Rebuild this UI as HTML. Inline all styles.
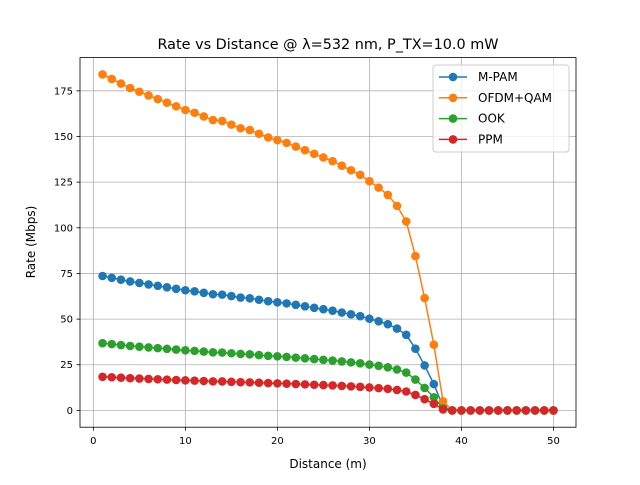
<!DOCTYPE html>
<html><head><meta charset="utf-8"><style>
body{margin:0;background:#fff}
svg{font-family:"DejaVu Sans","Liberation Sans",sans-serif}
</style></head><body>
<svg id="chart" width="640" height="480" xmlns="http://www.w3.org/2000/svg">
<rect width="640" height="480" fill="#fff"/>
<text x="328" y="49" font-size="14.4" text-anchor="middle">Rate vs Distance @ λ=532 nm, P_TX=10.0 mW</text>
<g id="grid"></g><g id="series"></g>
<rect x="80" y="57.6" width="496" height="369.6" fill="none" stroke="#000" stroke-width="0.8"/>
<g id="axes"></g>
<text x="328" y="468" font-size="12" text-anchor="middle">Distance (m)</text>
<text transform="translate(35,242) rotate(-90)" font-size="12" text-anchor="middle">Rate (Mbps)</text>
<g id="legend"></g>
</svg>
<script>
const distances=[1,2,3,4,5,6,7,8,9,10,11,12,13,14,15,16,17,18,19,20,21,22,23,24,25,26,27,28,29,30,31,32,33,34,35,36,37,38,39,40,41,42,43,44,45,46,47,48,49,50];
const ofdm=[184,181.5,179,176.5,174.5,172.5,170.5,168.5,166.5,164.5,163,161,159,158.5,156.5,154.5,153.5,151.5,149.5,148,146.5,144.5,142.5,140.5,138.5,136.5,134,131.5,129,125.5,122,118,112,103.5,84.5,61.5,36,5,0,0,0,0,0,0,0,0,0,0,0,0];
const mpam=[73.6,72.6,71.6,70.6,69.8,69,68.2,67.4,66.6,65.8,65.2,64.4,63.6,63.4,62.6,61.8,61.4,60.6,59.8,59.2,58.6,57.8,57,56.2,55.4,54.6,53.6,52.6,51.6,50.2,48.8,47.2,44.8,41.4,33.8,24.6,14.4,2,0,0,0,0,0,0,0,0,0,0,0,0];
const ook=[36.8,36.3,35.8,35.3,34.9,34.5,34.1,33.7,33.3,32.9,32.6,32.2,31.8,31.7,31.3,30.9,30.7,30.3,29.9,29.6,29.3,28.9,28.5,28.1,27.7,27.3,26.8,26.3,25.8,25.1,24.4,23.6,22.4,20.7,16.9,12.3,7.2,1,0,0,0,0,0,0,0,0,0,0,0,0];
const ppm=[18.4,18.15,17.9,17.65,17.45,17.25,17.05,16.85,16.65,16.45,16.3,16.1,15.9,15.85,15.65,15.45,15.35,15.15,14.95,14.8,14.65,14.45,14.25,14.05,13.85,13.65,13.4,13.15,12.9,12.55,12.2,11.8,11.2,10.35,8.45,6.15,3.6,0.5,0,0,0,0,0,0,0,0,0,0,0,0];
const xTicks=[0,10,20,30,40,50];
const yTicks=[0,25,50,75,100,125,150,175];
const seriesNames=["M-PAM","OFDM+QAM","OOK","PPM"];
const seriesColors=["#1f77b4","#ff7f0e","#2ca02c","#d62728"];
const NS="http://www.w3.org/2000/svg";
const X0=80,X1=576,Y0=57.6,Y1=427.2,xmin=-1.45,xmax=52.45,ymin=-9.2,ymax=193.2;
const sx=v=>X0+(v-xmin)/(xmax-xmin)*(X1-X0);
const sy=v=>Y1-(v-ymin)/(ymax-ymin)*(Y1-Y0);
function mk(tag,attrs,parent){const e=document.createElementNS(NS,tag);for(const k in attrs)e.setAttribute(k,attrs[k]);parent.appendChild(e);return e;}
const grid=document.getElementById('grid'),axes=document.getElementById('axes');
xTicks.forEach(t=>{const x=sx(t);
 const g=mk('line',{x1:x,x2:x,y1:Y0,y2:Y1,stroke:'#b0b0b0','stroke-width':0.8},grid);
 
 mk('line',{x1:x,x2:x,y1:Y1,y2:Y1+3.5,stroke:'#000','stroke-width':0.8},axes);
 const l=mk('text',{x:x,y:Y1+17,'font-size':10,'text-anchor':'middle'},axes);l.textContent=t;
 });
yTicks.forEach(t=>{const y=sy(t);
 const g=mk('line',{x1:X0,x2:X1,y1:y,y2:y,stroke:'#b0b0b0','stroke-width':0.8},grid);
 
 mk('line',{x1:X0-3.5,x2:X0,y1:y,y2:y,stroke:'#000','stroke-width':0.8},axes);
 const l=mk('text',{x:X0-7,y:y+3.5,'font-size':10,'text-anchor':'end'},axes);l.textContent=t;
 });
const data=[mpam,ofdm,ook,ppm];
const sg=document.getElementById('series');
data.forEach((arr,i)=>{const g=mk('g',{},sg);
 
 
 mk('polyline',{points:arr.map((v,j)=>sx(distances[j])+','+sy(v)).join(' '),fill:'none',stroke:seriesColors[i],'stroke-width':1.5},g);
 arr.forEach((v,j)=>{const c=mk('circle',{cx:sx(distances[j]),cy:sy(v),r:4.3,fill:seriesColors[i]},g);
  });});
const lg=document.getElementById('legend');
const box=mk('rect',{x:433,y:65,width:136,height:87,fill:'#fff','fill-opacity':0.8,stroke:'#ccc',rx:3},lg);

seriesNames.forEach((n,i)=>{const y=77+i*20.8;const g=mk('g',{},lg);
 
 mk('line',{x1:439,x2:467,y1:y,y2:y,stroke:seriesColors[i],'stroke-width':1.5},g);
 mk('circle',{cx:453,cy:y,r:4.3,fill:seriesColors[i]},g);
 const t=mk('text',{x:478,y:y+4,'font-size':12},g);t.textContent=n;});
</script>
</body></html>
